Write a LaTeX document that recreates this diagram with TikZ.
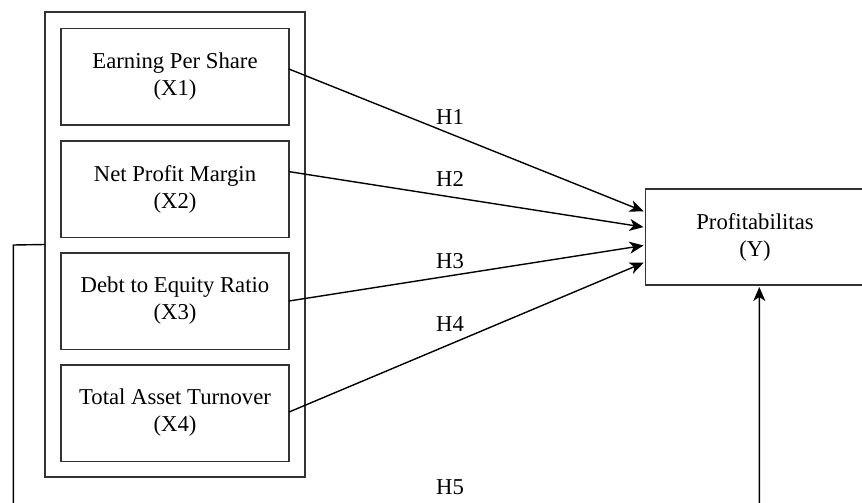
\documentclass[tikz,border=0pt]{standalone}
\usepackage{fontspec}
\setmainfont{Liberation Serif}
\usetikzlibrary{calc,arrows.meta}
\definecolor{boxline}{HTML}{333333}
\tikzset{
  varbox/.style={draw=boxline, line width=0.75pt, rectangle, inner sep=0pt, outer sep=0pt,
    minimum width=114pt, minimum height=48.25pt, align=center,
    font=\fontsize{11.35pt}{13.5pt}\selectfont},
  grpbox/.style={draw=boxline, line width=0.75pt, rectangle, inner sep=0pt, outer sep=0pt,
    minimum width=130pt, minimum height=232.5pt},
  ybox/.style={draw=boxline, line width=0.75pt, rectangle, inner sep=0pt, outer sep=0pt,
    minimum width=109.5pt, minimum height=48pt, align=center,
    font=\fontsize{11.35pt}{13.5pt}\selectfont},
  arr/.style={draw=black, line width=0.7pt, -{Stealth[length=7pt,width=6pt,inset=2pt]}, shorten >=1pt},
  hlab/.style={font=\fontsize{11.35pt}{13.5pt}\selectfont, inner sep=0pt}
}
\begin{document}
\begin{tikzpicture}[x=0.5pt,y=-0.5pt]
\useasboundingbox (0,0) rectangle (862,503);
\clip (0,0) rectangle (862,503);
\node[grpbox] (outer) at (175,244.5) {};
\node[varbox] (b1) at (175,76.75) {Earning Per Share\\(X1)};
\node[varbox] (b2) at (175,189) {Net Profit Margin\\(X2)};
\node[varbox] (b3) at (175,301) {Debt to Equity Ratio\\(X3)};
\node[varbox] (b4) at (175,413) {Total Asset Turnover\\(X4)};
\node[ybox] (Y) at (755,237) {Profitabilitas\\(Y)};

\draw[arr] ($(b1.north east)!0.42!(b1.south east)$) -- ($(Y.north west)!0.24!(Y.south west)$);
\draw[arr] ($(b2.north east)!0.32!(b2.south east)$) -- ($(Y.north west)!0.40!(Y.south west)$);
\draw[arr] ($(b3.north east)!0.5!(b3.south east)$) -- ($(Y.north west)!0.585!(Y.south west)$);
\draw[arr] ($(b4.north east)!0.49!(b4.south east)$) -- ($(Y.north west)!0.76!(Y.south west)$);

\node[hlab] (h1) at (450,117.5) {H1};
\node[hlab] (h2) at (450,179) {H2};
\node[hlab] (h3) at (450,261) {H3};
\node[hlab] (h4) at (450,324) {H4};
\node[hlab] (h5) at (450,487) {H5};

\coordinate (c1) at (13.3,245);
\coordinate (c2) at (13.3,530);
\coordinate (c3) at (759.3,530);
\draw[arr] (outer.west) -- (c1) -- (c2) -- (c3) -- (c3 |- Y.south);
\end{tikzpicture}
\end{document}
